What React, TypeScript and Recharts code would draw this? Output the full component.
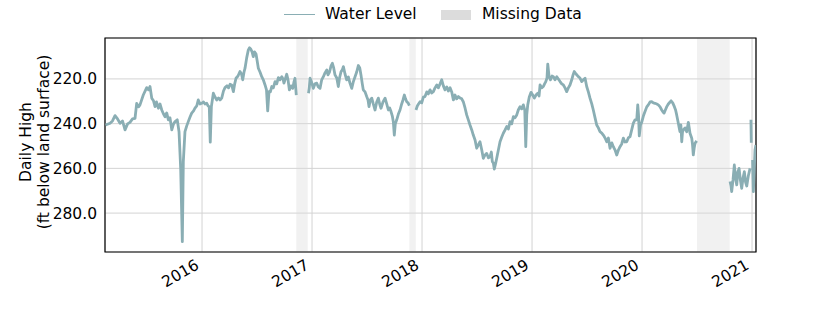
import { LineChart, Line, XAxis, YAxis, CartesianGrid, ReferenceArea } from 'recharts'

// decimal years; null marks a break in the record
const years = [
  2015.123, 2015.164, 2015.186, 2015.209, 2015.232, 2015.255, 2015.277, 2015.3, 2015.323, 2015.345,
  2015.368, 2015.391, 2015.406, 2015.423, 2015.436, 2015.466, 2015.497, 2015.514, 2015.527, 2015.543,
  2015.559, 2015.573, 2015.586, 2015.603, 2015.618, 2015.634, 2015.65, 2015.664, 2015.679, 2015.694,
  2015.709, 2015.725, 2015.741, 2015.755, 2015.775, 2015.791, 2015.806, 2015.821, 2015.83, 2015.845,
  2015.861, 2015.875, 2015.891, 2015.906, 2015.923, 2015.936, 2015.952, 2015.966, 2015.982, 2015.997,
  2016.014, 2016.027, 2016.043, 2016.055, 2016.066, 2016.075, 2016.085, 2016.103, 2016.118, 2016.134,
  2016.15, 2016.164, 2016.179, 2016.195, 2016.209, 2016.227, 2016.241, 2016.255, 2016.27, 2016.285,
  2016.297, 2016.309, 2016.327, 2016.345, 2016.359, 2016.37, 2016.382, 2016.391, 2016.406, 2016.421,
  2016.432, 2016.443, 2016.455, 2016.466, 2016.477, 2016.491, 2016.5, 2016.512, 2016.527, 2016.543,
  2016.557, 2016.573, 2016.586, 2016.597, 2016.609, 2016.621, 2016.634, 2016.648, 2016.664, 2016.679,
  2016.694, 2016.709, 2016.725, 2016.736, 2016.745, 2016.757, 2016.77, 2016.782, 2016.794, 2016.809,
  2016.825, 2016.836, 2016.845, 2016.857, 2016.91,
  2016.968, 2016.975, 2016.982, 2016.995, 2017.012, 2017.027, 2017.043, 2017.057, 2017.073, 2017.088,
  2017.103, 2017.118, 2017.134, 2017.145, 2017.159, 2017.173, 2017.185, 2017.197, 2017.209, 2017.225,
  2017.239, 2017.25, 2017.264, 2017.275, 2017.285, 2017.3, 2017.315, 2017.33, 2017.345, 2017.361,
  2017.375, 2017.391, 2017.406, 2017.421, 2017.434, 2017.445, 2017.457, 2017.466, 2017.482, 2017.497,
  2017.509, 2017.518, 2017.53, 2017.543, 2017.557, 2017.573, 2017.588, 2017.603, 2017.615, 2017.627,
  2017.645, 2017.664, 2017.679, 2017.694, 2017.706, 2017.718, 2017.73, 2017.739, 2017.748, 2017.757,
  2017.77, 2017.785, 2017.8, 2017.815, 2017.827, 2017.839, 2017.85, 2017.861, 2017.873, 2017.885,
  2017.915,
  2017.945, 2017.957, 2017.968, 2017.982, 2017.997, 2018.012, 2018.027, 2018.043, 2018.057, 2018.073,
  2018.088, 2018.103, 2018.118, 2018.134, 2018.148, 2018.164, 2018.179, 2018.194, 2018.209, 2018.225,
  2018.239, 2018.255, 2018.27, 2018.285, 2018.3, 2018.315, 2018.33, 2018.345, 2018.361, 2018.375,
  2018.391, 2018.406, 2018.421, 2018.436, 2018.452, 2018.466, 2018.482, 2018.497, 2018.512, 2018.527,
  2018.543, 2018.557, 2018.573, 2018.588, 2018.603, 2018.618, 2018.63, 2018.639, 2018.648, 2018.657,
  2018.668, 2018.679, 2018.694, 2018.709, 2018.725, 2018.739, 2018.755, 2018.77, 2018.785, 2018.8,
  2018.815, 2018.83, 2018.845, 2018.861, 2018.875, 2018.891, 2018.906, 2018.921, 2018.934, 2018.943,
  2018.952, 2018.961, 2018.975, 2018.991, 2019.006, 2019.021, 2019.036, 2019.052, 2019.064, 2019.073,
  2019.088, 2019.103, 2019.114, 2019.125, 2019.136, 2019.143, 2019.155, 2019.168, 2019.182, 2019.194,
  2019.209, 2019.225, 2019.239, 2019.255, 2019.27, 2019.285, 2019.3, 2019.315, 2019.33, 2019.345,
  2019.361, 2019.373, 2019.384, 2019.4, 2019.421, 2019.436, 2019.452, 2019.466, 2019.482, 2019.497,
  2019.512, 2019.527, 2019.543, 2019.557, 2019.573, 2019.588, 2019.603, 2019.618, 2019.634, 2019.648,
  2019.664, 2019.679, 2019.694, 2019.709, 2019.725, 2019.739, 2019.755, 2019.77, 2019.785, 2019.8,
  2019.815, 2019.83, 2019.845, 2019.861, 2019.875, 2019.891, 2019.906, 2019.921, 2019.936, 2019.952,
  2019.961, 2019.968, 2019.975, 2019.986, 2019.997, 2020.012, 2020.027, 2020.043, 2020.057, 2020.073,
  2020.088, 2020.103, 2020.118, 2020.134, 2020.148, 2020.164, 2020.179, 2020.191, 2020.2, 2020.212,
  2020.225, 2020.239, 2020.255, 2020.264, 2020.279, 2020.294, 2020.305, 2020.315, 2020.33, 2020.338,
  2020.345, 2020.353, 2020.361, 2020.368, 2020.375, 2020.391, 2020.406, 2020.421, 2020.429, 2020.436,
  2020.452, 2020.459, 2020.466, 2020.474, 2020.482, 2020.497, 2020.6,
  2020.8, 2020.809, 2020.815, 2020.827, 2020.839, 2020.85, 2020.861, 2020.871, 2020.882, 2020.894,
  2020.906, 2020.918, 2020.93, 2020.941, 2020.952, 2020.966, 2020.982, 2020.986,
  2020.99, 2020.993, 2020.998,
  2021.005, 2021.012, 2021.02, 2021.027, 2021.035,
]

// daily high, ft below land surface
const levels = [
  240.6, 239.8, 238.8, 236.4, 237.9, 239.8, 238.8, 242.8, 240.1, 239.4,
  237.9, 237.6, 230.9, 232.5, 231.6, 227.2, 223.9, 224.9, 223.4, 228.6,
  229.8, 232.4, 230.3, 233.1, 231.2, 233.9, 235.7, 236.9, 235.2, 238.3,
  237.4, 242.8, 240.1, 239.1, 238.3, 243.6, 260.0, 292.8, 257.0, 243.6,
  241.0, 239.1, 237.0, 235.3, 234.3, 233.1, 232.1, 229.4, 231.2, 230.9,
  230.3, 231.2, 230.9, 232.1, 232.5, 248.3, 232.4, 226.4, 228.1, 229.4,
  228.5, 229.4, 228.6, 225.4, 223.9, 223.1, 224.0, 222.4, 222.7, 225.7,
  222.2, 219.7, 218.7, 216.7, 217.8, 220.4, 216.9, 215.2, 210.6, 207.0,
  206.1, 206.6, 207.9, 210.0, 207.9, 208.9, 211.5, 215.2, 216.9, 219.0,
  220.4, 222.7, 224.9, 234.3, 225.7, 225.8, 223.4, 224.0, 221.2, 222.2,
  219.4, 220.4, 219.0, 220.0, 221.9, 220.0, 217.9, 220.4, 224.9, 223.1,
  224.2, 221.3, 219.7, 227.2, null,
  226.4, 224.0, 219.7, 221.3, 224.2, 222.2, 221.9, 223.6, 224.2, 220.4,
  219.0, 217.3, 216.0, 218.2, 216.9, 214.2, 213.0, 215.1, 218.2, 219.6,
  223.4, 219.6, 216.7, 216.0, 214.5, 217.8, 220.4, 219.1, 221.9, 224.2,
  221.3, 219.0, 216.9, 214.0, 215.1, 218.2, 222.2, 224.9, 225.8, 227.9,
  229.4, 232.4, 229.4, 228.6, 231.2, 233.9, 230.3, 228.6, 231.2, 233.1,
  230.3, 228.6, 231.2, 233.9, 233.0, 234.6, 236.6, 239.1, 245.1, 240.1,
  238.3, 235.7, 233.9, 231.2, 229.4, 227.2, 228.9, 230.2, 230.7, 231.9,
  null,
  233.9, 232.1, 231.2, 230.2, 230.7, 228.1, 227.9, 225.8, 226.7, 224.9,
  226.3, 225.7, 224.0, 222.7, 224.0, 222.2, 220.4, 223.1, 224.9, 223.6,
  225.4, 223.9, 225.8, 229.4, 227.2, 228.9, 227.9, 228.5, 228.9, 230.2,
  233.0, 236.1, 238.3, 240.6, 242.8, 245.1, 247.3, 251.0, 249.5, 248.1,
  251.8, 255.5, 254.0, 253.3, 255.3, 254.8, 252.7, 257.0, 257.6, 260.3,
  258.0, 255.5, 251.8, 248.1, 246.0, 244.3, 242.8, 241.3, 242.4, 239.1,
  240.1, 236.9, 237.4, 236.1, 233.9, 232.4, 233.4, 231.6, 233.9, 250.3,
  236.1, 231.6, 228.1, 226.0, 227.2, 228.6, 227.2, 226.4, 227.6, 222.7,
  224.0, 223.4, 222.2, 221.2, 219.6, 213.4, 219.0, 220.4, 218.7, 219.0,
  220.4, 219.0, 220.0, 221.2, 222.2, 222.7, 224.0, 225.7, 224.0, 222.7,
  220.4, 218.2, 216.7, 217.8, 219.0, 219.6, 221.2, 220.4, 219.7, 223.4,
  225.8, 228.6, 231.2, 233.9, 237.4, 240.6, 241.9, 243.6, 244.2, 245.1,
  246.4, 248.1, 246.4, 251.0, 248.6, 250.3, 251.8, 254.0, 251.8, 250.3,
  249.1, 246.5, 248.2, 248.1, 246.4, 245.8, 242.8, 239.8, 238.3, 238.3,
  231.6, 236.1, 245.5, 240.6, 239.4, 236.6, 234.6, 232.5, 231.6, 230.3,
  230.2, 230.7, 230.9, 231.2, 231.6, 232.5, 233.9, 234.8, 235.3, 233.9,
  232.4, 231.2, 230.3, 229.8, 230.7, 232.4, 233.9, 236.1, 239.8, 241.9,
  243.6, 240.6, 248.1, 243.7, 242.8, 241.9, 243.6, 239.4, 241.9, 244.3,
  246.5, 249.5, 254.0, 250.9, 248.8, 247.7, null,
  265.9, 267.9, 270.4, 265.2, 258.5, 264.3, 267.4, 261.6, 260.0, 265.2,
  268.9, 264.3, 261.5, 266.1, 267.9, 263.4, 260.0, null,
  238.3, 248.5, null,
  256.2, 270.4, 260.7, 251.8, 249.5,
]

const yearTicks = [2016, 2017, 2018, 2019, 2020, 2021]
const levelTicks = [220, 240, 260, 280]
const missingSpans = [
  [2016.857, 2016.961],
  [2017.885, 2017.943],
  [2020.5, 2020.797],
]

const X_DOMAIN = [2015.118, 2021.036]
const Y_DOMAIN = [201.7, 297.4]
const LINE_COLOR = '#8aaeb4'
const FONT = '"DejaVu Sans", sans-serif'
const FS = 15.5

const data = years.map((t, i) => ({ t, level: levels[i] }))

const YearTick = ({ x, y, payload }: any) => {
  const tx = x - 2
  const ty = y + 14
  return (
    <text
      x={tx}
      y={ty}
      transform={`rotate(-30, ${tx}, ${ty})`}
      textAnchor="end"
      fontSize={FS}
      fill="#000"
      fontFamily={FONT}
    >
      {payload.value}
    </text>
  )
}

const YTitle = ({ viewBox }: any) => {
  const cy = viewBox.y + viewBox.height / 2 - 3
  return (
    <g fontFamily={FONT} fontSize={FS} fill="#000">
      <text x={31} y={cy} transform={`rotate(-90, 31, ${cy})`} textAnchor="middle">
        Daily High
      </text>
      <text x={49} y={cy} transform={`rotate(-90, 49, ${cy})`} textAnchor="middle">
        (ft below land surface)
      </text>
    </g>
  )
}

function ChartLegend() {
  return (
    <div
      style={{
        position: 'absolute',
        left: 0,
        top: 0,
        width: 840,
        height: 30,
        fontFamily: FONT,
        fontSize: FS,
        color: '#000',
      }}
    >
      <div style={{ position: 'absolute', left: 284, top: 14, width: 31, borderTop: `1.5px solid ${LINE_COLOR}` }} />
      <span style={{ position: 'absolute', left: 325, top: 5, lineHeight: '19px' }}>Water Level</span>
      <div style={{ position: 'absolute', left: 441, top: 10, width: 30, height: 10, background: '#dcdcdc' }} />
      <span style={{ position: 'absolute', left: 482, top: 5, lineHeight: '19px' }}>Missing Data</span>
    </div>
  )
}

export default function App() {
  return (
    <div style={{ position: 'absolute', left: 0, top: 0, width: 840, height: 315, background: '#fff' }}>
      <LineChart
        width={840}
        height={315}
        data={data}
        margin={{ top: 38, right: 84, bottom: 0, left: 0 }}
        style={{ fontFamily: FONT }}
      >
        <CartesianGrid stroke="#d3d3d3" strokeWidth={1} />
        <XAxis
          dataKey="t"
          type="number"
          domain={X_DOMAIN}
          ticks={yearTicks}
          allowDataOverflow
          height={63}
          axisLine={false}
          tickLine={false}
          tickSize={0}
          tick={<YearTick />}
          interval={0}
        />
        <YAxis
          type="number"
          reversed
          domain={Y_DOMAIN}
          ticks={levelTicks}
          allowDataOverflow
          width={105}
          axisLine={false}
          tickLine={false}
          tickSize={0}
          tickMargin={8}
          tick={{ fill: '#000', fontSize: FS, fontFamily: FONT }}
          tickFormatter={(v: number) => v.toFixed(1)}
          interval={0}
          label={{ content: <YTitle /> }}
        />
        {missingSpans.map(([a, b], i) => (
          <ReferenceArea key={i} x1={a} x2={b} fill="#dcdcdc" fillOpacity={0.4} stroke="none" ifOverflow="hidden" />
        ))}
        <Line
          type="linear"
          dataKey="level"
          stroke={LINE_COLOR}
          strokeWidth={2.8}
          strokeLinejoin="round"
          dot={false}
          activeDot={false}
          connectNulls={false}
          isAnimationActive={false}
        />
        <ReferenceArea
          x1={X_DOMAIN[0]}
          x2={X_DOMAIN[1]}
          y1={Y_DOMAIN[0]}
          y2={Y_DOMAIN[1]}
          fill="none"
          stroke="#000"
          strokeWidth={1.2}
          ifOverflow="visible"
        />
      </LineChart>
      <ChartLegend />
    </div>
  )
}
